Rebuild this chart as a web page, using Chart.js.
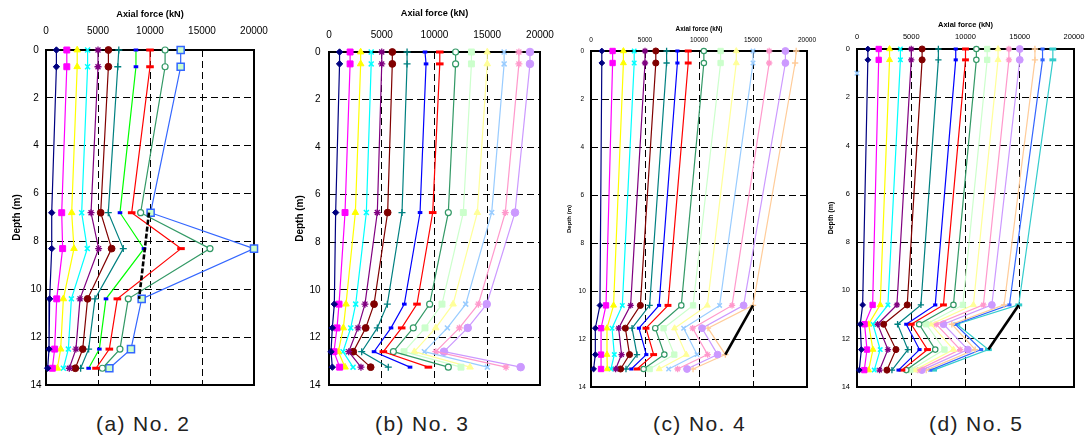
<!DOCTYPE html>
<html>
<head>
<meta charset="utf-8">
<script src="https://cdn.jsdelivr.net/npm/chart.js@4/dist/chart.umd.min.js"></script>
<style>
  html, body { margin:0; padding:0; background:#fff; }
  body { width:1085px; height:444px; position:relative; overflow:hidden; }
  canvas { position:absolute; top:0; }
  .cap { position:absolute; top:413px; font-family:'Liberation Sans', Arial, sans-serif; font-size:21px; line-height:1; color:#222; letter-spacing:1.4px; white-space:pre; }
</style>
</head>
<body>
<canvas id="ca" width="270" height="400" style="left:0px"></canvas>
<canvas id="cb" width="290" height="400" style="left:270px"></canvas>
<canvas id="cc" width="262" height="400" style="left:560px"></canvas>
<canvas id="cd" width="263" height="400" style="left:822px"></canvas>
<div class="cap" style="left:96px">(a) No. 2</div>
<div class="cap" style="left:375px">(b) No. 3</div>
<div class="cap" style="left:653px">(c) No. 4</div>
<div class="cap" style="left:929px">(d) No. 5</div>
<script>
// ---------- tick labels ----------
const forceTicks = [0, 5000, 10000, 15000, 20000];
const depthTicks = [0, 2, 4, 6, 8, 10, 12, 14];
const xTitle = 'Axial force (kN)';
const yTitle = 'Depth (m)';

// ---------- (a) No. 2 ----------
const depthA = [0, 0.7, 6.8, 8.3, 10.4, 12.5, 13.3];
const keysA = ['navy','magenta','yellow','cyan','purple','maroon','teal','greenA','red','seagreen','cornflower'];
const forceA = [
  [1000, 1000, 550, 550, 350, 290, 160],
  [2000, 2000, 1510, 1600, 1030, 830, 610],
  [3000, 3000, 2470, 2690, 1670, 1410, 1090],
  [4000, 4000, 3430, 3970, 2440, 2150, 1670],
  [5000, 5000, 4330, 5060, 3270, 2880, 2240],
  [6000, 6000, 5260, 6310, 4000, 3530, 2820],
  [7000, 6900, 5990, 7430, 4710, 4100, 3330],
  [8650, 8650, 7115, 9420, 5770, 5130, 4100],
  [10000, 10000, 8240, 12980, 6860, 6090, 4810],
  [11450, 11450, 9100, 15770, 7910, 7110, 5420],
  [12950, 12950, 10060, 20000, 9200, 8170, 6090]
];
const lineAx = [9900, 8950];
const lineAy = [6.8, 10.4];

// ---------- (b) No. 3 ----------
const depthB = [0, 0.5, 6.75, 10.6, 11.6, 12.6, 13.25];
const keysB = ['navy','magenta','yellow','cyan','purple','maroon','teal','blue','red','seagreen','lightgreen','lightyellow','lightblue','pink','lavender'];
const forceB = [
  [1000, 1000, 630, 505, 316, 190, 316],
  [2000, 2000, 1520, 950, 760, 470, 1010],
  [3000, 3000, 2500, 1610, 1360, 885, 1520],
  [4000, 4000, 3540, 2530, 2060, 1330, 2280],
  [5000, 5000, 4580, 3410, 2750, 1870, 3030],
  [6000, 6000, 5560, 4270, 3480, 2300, 3950],
  [7400, 7400, 6920, 5530, 4580, 3100, 5620],
  [9100, 9200, 8630, 7140, 5880, 4270, 7680],
  [10500, 10500, 9830, 8340, 6890, 5150, 9420],
  [12000, 12000, 11310, 9540, 7990, 6100, 11310],
  [13500, 13500, 12730, 10710, 9100, 7110, 12510],
  [15000, 15000, 14060, 11760, 10120, 8090, 13370],
  [16600, 16600, 15420, 12960, 11220, 9040, 15010],
  [18000, 18000, 16710, 14160, 12360, 10120, 16780],
  [19050, 19050, 17630, 14950, 13150, 10900, 18170]
];

// ---------- (c) No. 4 ----------
const depthC = [0, 0.5, 10.6, 11.55, 12.65, 13.25];
const keysC = ['navy','magenta','yellow','cyan','purple','maroon','teal','blue','red','seagreen','lightgreen','lightyellow','lightblue','pink','lavender','peach'];
const forceC = [
  [1000, 1000, 830, 400, 400, 240],
  [2000, 2000, 1390, 930, 930, 930],
  [3000, 3000, 2090, 1480, 1480, 1510],
  [4000, 4000, 2900, 1950, 2160, 1850],
  [5000, 5000, 3670, 2560, 2830, 2280],
  [6000, 6000, 4570, 3180, 3570, 2740],
  [7000, 7000, 5430, 3800, 4260, 3240],
  [8000, 8000, 6300, 4440, 5120, 3730],
  [9000, 9000, 7130, 5090, 5800, 4260],
  [10450, 10450, 8360, 5950, 6790, 4870],
  [12000, 12000, 9450, 6720, 7710, 5430],
  [13450, 13450, 10770, 7740, 8820, 6320],
  [15000, 15000, 11910, 8580, 9820, 7190],
  [16500, 16500, 13060, 9410, 10800, 8020],
  [18000, 18000, 14130, 10280, 11720, 8890],
  [19000, 18900, 15000, 10830, 12440, 9450]
];
const lineCx = [15000, 12440];
const lineCy = [10.6, 12.65];

// ---------- (d) No. 5 ----------
const depthD = [0, 0.45, 10.6, 11.4, 12.45, 13.3];
const keysD = ['navy','magenta','yellow','cyan','purple','maroon','teal','blue','red','seagreen','lightgreen','lightyellow','pink','lavender','peach','royal','turq'];
const forceD = [
  [1000, 1000, 520, 300, 400, 210],
  [2000, 2000, 1440, 700, 920, 670],
  [3000, 3000, 2140, 1070, 1470, 1070],
  [4000, 4000, 2850, 1470, 2140, 1590],
  [5000, 5000, 3680, 1900, 2850, 2080],
  [6000, 6000, 4630, 2450, 3590, 2760],
  [7500, 7500, 5890, 3740, 4690, 3220],
  [9100, 9100, 7210, 4540, 5760, 3830],
  [10000, 10000, 7970, 5000, 6500, 4140],
  [11000, 11000, 8890, 5730, 7210, 4540],
  [12000, 12000, 9760, 6380, 8060, 4910],
  [13000, 13000, 10730, 6810, 8890, 5300],
  [14000, 14000, 11650, 7300, 9510, 5610],
  [15000, 15000, 12430, 7970, 10220, 5980],
  [16400, 16400, 13560, 8740, 10890, 6380],
  [17100, 17100, 14050, 9050, 11440, 6750],
  [18050, 18050, 14910, 9200, 12110, 7060]
];
const strayDx = [0];
const strayDy = [1.0];
const lineDx = [14910, 12110];
const lineDy = [10.6, 12.45];

// ---------- styles ----------
const ST = {
  navy:       {line:'#000080', pt:'rectRot', r:3.2},
  magenta:    {line:'#FF00FF', pt:'rect', r:4.2},
  yellow:     {line:'#FFFF00', pt:'triangle', r:3.8},
  cyan:       {line:'#00FFFF', pt:'crossRot', r:3.5, bw:1.5},
  purple:     {line:'#800080', pt:'star', r:3.5, bw:1.3},
  maroon:     {line:'#800000', pt:'circle', r:3.4},
  teal:       {line:'#008080', pt:'cross', r:3.5, bw:1.3},
  greenA:     {line:'#00FF00', mk:'#0000FF', fill:'#0000FF', pt:'line', r:2.3, bw:3},
  blue:       {line:'#0000FF', pt:'line', r:2.3, bw:3},
  red:        {line:'#FF0000', pt:'line', r:3.8, bw:3},
  seagreen:   {line:'#339966', pt:'circle', fill:'#FFFFFF', r:3, bw:1.2},
  cornflower: {line:'#3366FF', pt:'rect', fill:'#CCFFCC', r:5, bw:1.5},
  lightgreen: {line:'#CCFFCC', pt:'rect', r:4.2},
  lightyellow:{line:'#FFFF99', pt:'triangle', r:3.8},
  lightblue:  {line:'#99CCFF', pt:'crossRot', r:3.5, bw:1.5},
  pink:       {line:'#FF99CC', pt:'star', r:3.5, bw:1.3},
  lavender:   {line:'#CC99FF', pt:'circle', r:3.8},
  peach:      {line:'#FFCC99', pt:'cross', r:3.5, bw:1.3},
  royal:      {line:'#3366FF', pt:'line', r:2.3, bw:3},
  turq:       {line:'#33CCCC', pt:'line', r:3.8, bw:3}
};

function seriesDS(depths, row, key, ms) {
  const s = ST[key];
  return {
    label: key,
    data: row.map((v, i) => ({x: v, y: depths[i]})),
    showLine: true,
    borderColor: s.line,
    borderWidth: 1.2,
    pointStyle: s.pt,
    pointRadius: s.r * ms,
    pointHoverRadius: s.r * ms,
    pointBorderWidth: s.bw || 1,
    pointBackgroundColor: s.fill || s.line,
    pointBorderColor: s.mk || s.line,
    clip: false,
    order: 1
  };
}
function blackDS(xs, ys, dash) {
  return {
    label: 'trend',
    data: xs.map((v, i) => ({x: v, y: ys[i]})),
    showLine: true,
    borderColor: '#000',
    borderWidth: 2.6,
    borderDash: dash || [],
    pointRadius: 0,
    clip: false,
    order: -1
  };
}

const boxPlugin = {
  id: 'box',
  beforeDatasetsDraw(chart) {
    const {ctx, chartArea: a} = chart;
    ctx.save();
    ctx.strokeStyle = '#000';
    ctx.lineWidth = 2;
    ctx.strokeRect(a.left, a.top, a.right - a.left, a.bottom - a.top);
    ctx.restore();
  }
};

const FONT = "'Liberation Sans', Arial, sans-serif";

function makePanel(p) {
  const datasets = p.forces.map((row, i) => seriesDS(p.depths, row, p.keys[i], p.ms));
  (p.extra || []).forEach(d => datasets.push(d));
  const gridColor = (min, max) => (c) => (c.tick && (c.tick.value === min || c.tick.value === max)) ? 'rgba(0,0,0,0)' : '#000';
  new Chart(document.getElementById(p.id), {
    type: 'scatter',
    data: {datasets},
    options: {
      responsive: false,
      animation: false,
      devicePixelRatio: 1,
      events: [],
      layout: {padding: {left: 0, top: 0, right: p.canvasW - (p.plot.r - p.canvasL), bottom: 400 - p.plot.b}},
      plugins: {legend: {display: false}, tooltip: {enabled: false}},
      scales: {
        x: {
          type: 'linear', position: 'top', min: 0, max: 20000,
          afterBuildTicks: s => { s.ticks = forceTicks.map(v => ({value: v})); },
          afterFit: s => { s.height = p.plot.t; s.paddingLeft = 0; s.paddingRight = 0; },
          grid: {color: gridColor(0, 20000), lineWidth: 1, drawTicks: false},
          border: {display: false, dash: [7, 4]},
          ticks: {color: '#000', font: {family: FONT, size: p.xk.size}, padding: p.xk.pad, maxRotation: 0, autoSkip: false, callback: v => String(v)},
          title: {display: true, text: xTitle, color: '#000', font: {family: FONT, size: p.xt.size, weight: 'bold'}, padding: {top: p.xt.pad, bottom: 0}}
        },
        y: {
          type: 'linear', position: 'left', min: 0, max: 14, reverse: true,
          afterBuildTicks: s => { s.ticks = depthTicks.map(v => ({value: v})); },
          afterFit: s => { s.width = p.plot.l - p.canvasL; s.paddingTop = 0; s.paddingBottom = 0; },
          grid: {color: gridColor(0, 14), lineWidth: 1, drawTicks: false},
          border: {display: false, dash: [7, 4]},
          ticks: {color: '#000', font: {family: FONT, size: p.yk.size}, padding: p.yk.pad, crossAlign: p.yk.align, autoSkip: false, callback: v => String(v)},
          title: {display: true, text: yTitle, color: '#000', font: {family: FONT, size: p.yt.size, weight: 'bold'}, padding: {top: p.yt.pad, bottom: 0}}
        }
      }
    },
    plugins: [boxPlugin]
  });
}

makePanel({id:'ca', canvasL:0, canvasW:270, plot:{l:46, r:254, t:50, b:385},
  xt:{size:9.2, pad:9}, xk:{size:10, pad:12.3}, yt:{size:10, pad:10.8}, yk:{size:10, pad:4.4, align:'center'},
  depths:depthA, forces:forceA, keys:keysA, ms:1, extra:[blackDS(lineAx, lineAy, [5, 2])]});

makePanel({id:'cb', canvasL:270, canvasW:290, plot:{l:329, r:540, t:52, b:385},
  xt:{size:9.2, pad:8.3}, xk:{size:10, pad:11}, yt:{size:10, pad:24.3}, yk:{size:10, pad:8.5, align:'near'},
  depths:depthB, forces:forceB, keys:keysB, ms:1});

makePanel({id:'cc', canvasL:560, canvasW:262, plot:{l:591, r:807, t:51, b:387},
  xt:{size:6.4, pad:25.3}, xk:{size:6.5, pad:6.9}, yt:{size:6, pad:6.1}, yk:{size:6.5, pad:5.2, align:'center'},
  depths:depthC, forces:forceC, keys:keysC, ms:0.9, extra:[blackDS(lineCx, lineCy)]});

const strayD = {
  label: 'lightblue', data: strayDx.map((v, i) => ({x: v, y: strayDy[i]})),
  showLine: false, pointStyle: 'crossRot', pointRadius: 3.2, pointBorderWidth: 1.5,
  pointBorderColor: '#99CCFF', pointBackgroundColor: '#99CCFF', clip: false, order: 1
};
makePanel({id:'cd', canvasL:822, canvasW:263, plot:{l:857, r:1074, t:49, b:387},
  xt:{size:7.5, pad:20}, xk:{size:7.5, pad:7.8}, yt:{size:7, pad:4.5}, yk:{size:7.5, pad:7, align:'near'},
  depths:depthD, forces:forceD, keys:keysD, ms:0.9, extra:[strayD, blackDS(lineDx, lineDy)]});
</script>
</body>
</html>
